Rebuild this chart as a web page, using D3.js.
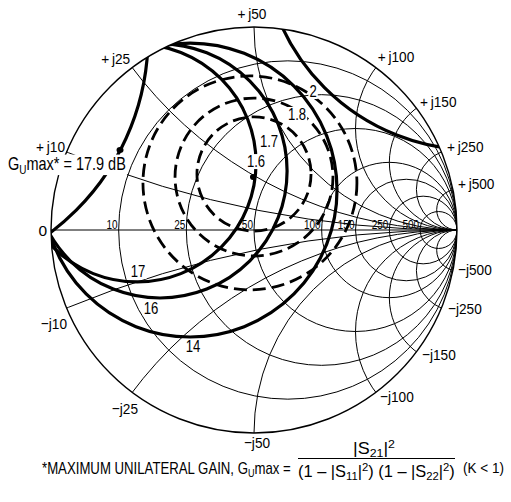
<!DOCTYPE html>
<html><head><meta charset="utf-8">
<script src="https://cdn.jsdelivr.net/npm/d3@7/dist/d3.min.js"></script>
<style>
html,body{margin:0;padding:0;background:#fff;}
svg{display:block;font-family:"Liberation Sans Narrow","Arial Narrow","Liberation Sans",Arial,sans-serif;}
</style></head><body>
<svg id="chart" width="511" height="502"></svg>
<script>
// ---------------- data ----------------
const resistanceValues = [0.2, 0.5, 1, 2, 3, 5, 10];
const resistanceLabels = ["10", "25", "50", "100", "150", "250", "500"];
const reactanceValues = [0.2, 0.5, 1, 2, 3, 5, 10, -0.2, -0.5, -1, -2, -3, -5, -10];
const reactanceLabels = ["+\u2009j10", "+\u2009j25", "+\u2009j50", "+\u2009j100", "+\u2009j150", "+\u2009j250", "+\u2009j500",
                         "\u2212j10", "\u2212j25", "\u2212j50", "\u2212j100", "\u2212j150", "\u2212j250", "\u2212j500"];
// constant unilateral gain circles (dB), centre and radius in reflection-coefficient plane
const gainValues = [17.9, 17, 16, 14];
const gainCenters = [[-1.729, 0.951], [-0.576, 0.330], [-0.463, 0.291], [-0.315, 0.197]];
const gainRadii = [1.207, 0.586, 0.626, 0.724];
// constant noise figure circles (dB)
const noiseValues = [1.7, 1.8, 2];
const noiseCenters = [[0.000, 0.276], [0.000, 0.261], [-0.020, 0.232]];
const noiseRadii = [0.281, 0.389, 0.527];
const noiseMin = 1.6;
const noiseMinPoint = [-0.005, 0.261];
// stability circle
const stabilityCenter = [1.089, 1.443];
const stabilityRadius = 1.049;
const gumaxPoint = [-0.660, 0.394];

// ---------------- layout ----------------
const cx = 254, cy = 230, R = 203;
const svg = d3.select("#chart");
const x = d3.scaleLinear().domain([-1, 1]).range([cx - R, cx + R]);
const y = d3.scaleLinear().domain([-1, 1]).range([cy + R, cy - R]);
const rs = v => x(v) - x(0);

const reactLabelLayout = [
  [-1.6, 0, "end"], [-2, -3.6, "end"], [-2, -8, "middle"], [2, -5.6, "start"], [3.6, -1, "start"], [5.6, 0, "start"], [5, -1, "start"],
  [0.4, 21, "end"], [5.8, 21.6, "end"], [3, 15, "middle"], [4.2, 9.6, "start"], [5.6, 8.2, "start"], [6.6, 6, "start"], [5, 4.8, "start"]
];
const gainLabelPos = {17: [-0.571, -0.232], 16: [-0.507, -0.414], 14: [-0.300, -0.601]};
const noiseLabelPos = {"1.6": [0.010, 0.310], "1.7": [0.074, 0.409], "1.8": [0.212, 0.542], "2": [0.291, 0.655]};

function condense(sel, f) {
  sel.each(function () {
    const L = this.getComputedTextLength();
    this.setAttribute("textLength", (L * f).toFixed(2));
    this.setAttribute("lengthAdjust", "spacingAndGlyphs");
  });
  return sel;
}
// composite text (with sub/superscripts) squeezed horizontally to a target width
function squeezeGroup(parent, px, py, anchor, width, build) {
  const g = parent.append("g");
  const t = g.append("text").attr("x", 0).attr("y", 0);
  build(t);
  const L = t.node().getComputedTextLength();
  const s = width / L;
  const x0 = anchor === "start" ? px : anchor === "middle" ? px - width / 2 : px - width;
  g.attr("transform", `translate(${x0},${py}) scale(${s.toFixed(4)},1)`);
  return g;
}
function whiteBgBox(parent, node, pad, before) {
  const b = node.getBBox ? node.getBoundingClientRect() : null;
  const r = node.getBoundingClientRect();
  parent.insert("rect", () => before)
    .attr("x", r.left - pad).attr("y", r.top + 1).attr("width", r.width + 2 * pad).attr("height", r.height - 2)
    .attr("fill", "#fff");
}
function whiteBg(textSel, pad) {
  textSel.each(function () {
    const b = this.getBBox();
    d3.select(this.parentNode).insert("rect", () => this)
      .attr("x", b.x - pad).attr("y", b.y + 1).attr("width", b.width + 2 * pad).attr("height", b.height - 2)
      .attr("fill", "#fff");
  });
}

const defs = svg.append("defs");
defs.append("clipPath").attr("id", "disc")
  .append("circle").attr("cx", x(0)).attr("cy", y(0)).attr("r", rs(1));

// ---------------- grid ----------------
const grid = svg.append("g").attr("clip-path", "url(#disc)")
  .attr("fill", "none").attr("stroke", "#000").attr("stroke-width", 1);
grid.selectAll("circle.res").data(resistanceValues).join("circle").attr("class", "res")
  .attr("cx", r => x(r / (1 + r))).attr("cy", y(0)).attr("r", r => rs(1 / (1 + r)));
grid.selectAll("circle.rea").data(reactanceValues).join("circle").attr("class", "rea")
  .attr("cx", x(1)).attr("cy", v => y(1 / v)).attr("r", v => rs(1 / Math.abs(v)));
grid.append("line").attr("x1", x(-1)).attr("x2", x(1)).attr("y1", y(0)).attr("y2", y(0));
svg.append("circle").attr("cx", x(0)).attr("cy", y(0)).attr("r", rs(1))
  .attr("fill", "none").attr("stroke", "#000").attr("stroke-width", 1.4);

// ---------------- curves ----------------
const curves = svg.append("g").attr("clip-path", "url(#disc)").attr("fill", "none").attr("stroke", "#000");
curves.selectAll("circle.gain").data(gainValues).join("circle").attr("class", "gain")
  .attr("cx", (d, i) => x(gainCenters[i][0])).attr("cy", (d, i) => y(gainCenters[i][1]))
  .attr("r", (d, i) => rs(gainRadii[i])).attr("stroke-width", 3.2);
curves.append("circle").attr("cx", x(stabilityCenter[0])).attr("cy", y(stabilityCenter[1]))
  .attr("r", rs(stabilityRadius)).attr("stroke-width", 3.2);
curves.selectAll("circle.nf").data(noiseValues).join("circle").attr("class", "nf")
  .attr("cx", (d, i) => x(noiseCenters[i][0])).attr("cy", (d, i) => y(noiseCenters[i][1]))
  .attr("r", (d, i) => rs(noiseRadii[i])).attr("stroke-width", 2.8).attr("stroke-dasharray", "13,6");

// ---------------- labels ----------------
const lab = svg.append("g").attr("fill", "#000");

// Gu max annotation (drawn first so the rim label sits on top)
const gmG = squeezeGroup(lab, x(-1.212), y(0.296), "start", 118, t => {
  t.attr("font-size", 17.5);
  t.append("tspan").text("G");
  t.append("tspan").attr("font-size", 12).attr("dy", 4).text("U");
  t.append("tspan").attr("dy", -4).text("max* = " + gainValues[0] + " dB");
});
{
  const b = gmG.node().getBBox();
  const s = 118 / gmG.select("text").node().getComputedTextLength();
  lab.insert("rect", () => gmG.node())
    .attr("x", x(-1.212) - 1).attr("y", y(0.296) + b.y + 1).attr("width", 120).attr("height", b.height - 2)
    .attr("fill", "#fff");
}

// resistance labels
condense(lab.selectAll("text.rl").data(resistanceValues).join("text").attr("class", "rl")
  .attr("x", r => x((r - 1) / (r + 1)) - 1).attr("y", y(0) - 1.5)
  .attr("text-anchor", "end").attr("font-size", 12.5)
  .text((r, i) => resistanceLabels[i]), 0.8);
// reactance labels at the rim
condense(lab.selectAll("text.xl").data(reactanceValues).join("text").attr("class", "xl")
  .attr("x", (v, i) => x((v * v - 1) / (v * v + 1)) + reactLabelLayout[i][0])
  .attr("y", (v, i) => y(2 * v / (v * v + 1)) + reactLabelLayout[i][1])
  .attr("text-anchor", (v, i) => reactLabelLayout[i][2]).attr("font-size", 15.5)
  .text((v, i) => reactanceLabels[i]), 0.88);
lab.append("text").attr("x", x(-1) - 4).attr("y", y(0) + 5.5).attr("text-anchor", "end")
  .attr("font-size", 15.5).text("0");

// gain labels
const gl = condense(lab.selectAll("text.gl").data(gainValues.filter(g => gainLabelPos[g])).join("text").attr("class", "gl")
  .attr("x", g => x(gainLabelPos[g][0])).attr("y", g => y(gainLabelPos[g][1]))
  .attr("text-anchor", "middle").attr("font-size", 16).text(g => g), 0.82);
whiteBg(gl, 1);

// noise labels
const nfAll = [noiseMin].concat(noiseValues);
const nl = condense(lab.selectAll("text.nl").data(nfAll).join("text").attr("class", "nl")
  .attr("x", v => x(noiseLabelPos[String(v)][0])).attr("y", v => y(noiseLabelPos[String(v)][1]))
  .attr("text-anchor", "middle").attr("font-size", 16).text(v => String(v)), 0.82);
whiteBg(nl, 1);

// markers
svg.append("circle").attr("cx", x(noiseMinPoint[0])).attr("cy", y(noiseMinPoint[1])).attr("r", 3).attr("fill", "#000");
svg.append("ellipse").attr("cx", x(gumaxPoint[0])).attr("cy", y(gumaxPoint[1])).attr("rx", 3.5).attr("ry", 3)
  .attr("fill", "#000");

// ---------------- footnote formula ----------------
const foot = svg.append("g").attr("fill", "#000").attr("font-size", 16);
squeezeGroup(foot, 42, 474, "start", 249, t => {
  t.append("tspan").text("*MAXIMUM UNILATERAL GAIN, G");
  t.append("tspan").attr("font-size", 11).attr("dy", 3).text("U");
  t.append("tspan").attr("dy", -3).text("max =");
});
squeezeGroup(foot, 374, 454, "middle", 42, t => {
  t.append("tspan").text("|S");
  t.append("tspan").attr("font-size", 11).attr("dy", 3).text("21");
  t.append("tspan").attr("dy", -3).text("|");
  t.append("tspan").attr("font-size", 11).attr("dy", -6).text("2");
});
foot.append("line").attr("x1", 298).attr("x2", 455).attr("y1", 458.5).attr("y2", 458.5)
  .attr("stroke", "#000").attr("stroke-width", 1.2);
squeezeGroup(foot, 298, 477, "start", 157, t => {
  t.append("tspan").text("(1 \u2013 |S");
  t.append("tspan").attr("font-size", 11).attr("dy", 3).text("11");
  t.append("tspan").attr("dy", -3).text("|");
  t.append("tspan").attr("font-size", 11).attr("dy", -6).text("2");
  t.append("tspan").attr("dy", 6).text(") (1 \u2013 |S");
  t.append("tspan").attr("font-size", 11).attr("dy", 3).text("22");
  t.append("tspan").attr("dy", -3).text("|");
  t.append("tspan").attr("font-size", 11).attr("dy", -6).text("2");
  t.append("tspan").attr("dy", 6).text(")");
});
condense(foot.append("text").attr("x", 463).attr("y", 473).attr("font-size", 15).text("(K < 1)"), 0.9);
</script>
</body></html>
